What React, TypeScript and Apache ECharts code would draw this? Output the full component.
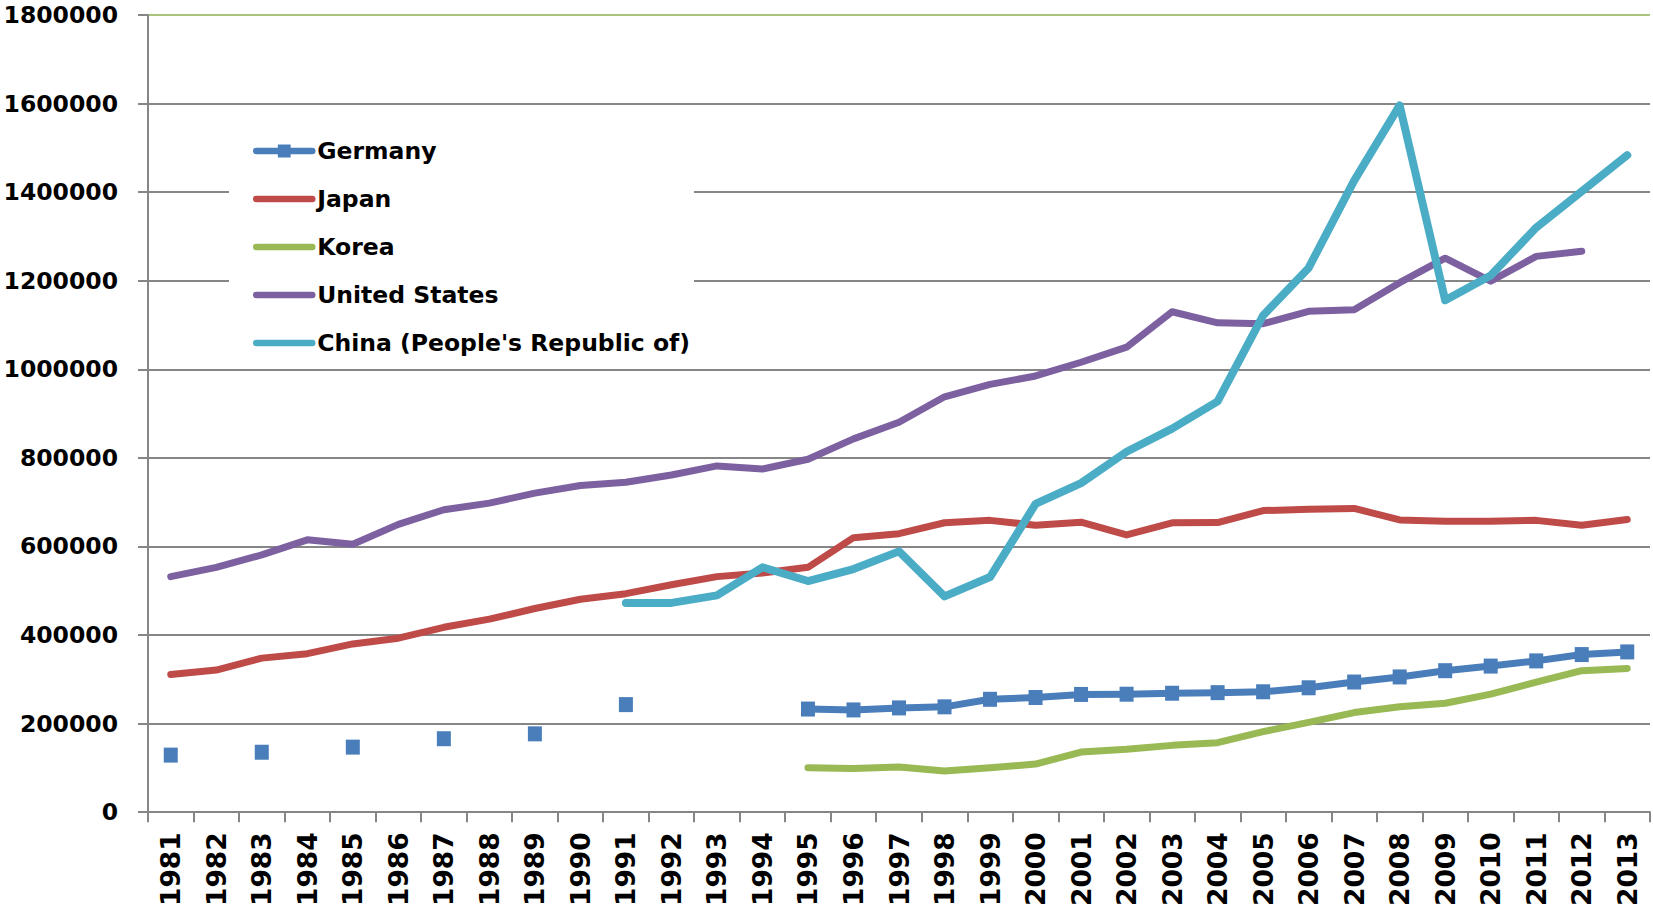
import React, { useEffect, useRef } from "react";
import * as echarts from "echarts";

const years = [
  "1981", "1982", "1983", "1984", "1985", "1986", "1987", "1988", "1989", "1990",
  "1991", "1992", "1993", "1994", "1995", "1996", "1997", "1998", "1999", "2000",
  "2001", "2002", "2003", "2004", "2005", "2006", "2007", "2008", "2009", "2010",
  "2011", "2012", "2013",
];

const seriesNames = ["Germany", "Japan", "Korea", "United States", "China (People's Republic of)"];

const germany = [
  129000, null, 135500, null, 147000, null, 166000, null, 177000, null,
  243000, null, null, null, 233000, 231000, 235600, 238000, 255000, 259000,
  266000, 266500, 268700, 270000, 272000, 281000, 294000, 305500, 319600, 330000,
  341700, 356000, 362000,
];

const japan = [
  311000, 321000, 348000, 358000, 380000, 393000, 417600, 436000, 460000, 481000,
  493500, 513600, 532000, 540000, 553000, 620000, 629000, 653600, 659000, 648000,
  655000, 626000, 653600, 654000, 681000, 684000, 686000, 660000, 657000, 657000,
  659000, 648000, 661000,
];

const korea = [
  null, null, null, null, null, null, null, null, null, null,
  null, null, null, null, 100500, 99000, 102000, 93000, 100500, 108700,
  136000, 142000, 151000, 157000, 182000, 203000, 225000, 238000, 246000, 266600,
  293600, 319600, 324700,
];

const unitedStates = [
  532000, 553000, 581000, 615000, 605000, 650000, 683000, 698000, 720600, 737600,
  745000, 761500, 782000, 775000, 797000, 843000, 880500, 938000, 966000, 985000,
  1016000, 1050000, 1130000, 1105000, 1103000, 1131000, 1134700, 1195600, 1251000, 1199000,
  1255000, 1266600, null,
];

const china = [
  null, null, null, null, null, null, null, null, null, null,
  472700, 472700, 489700, 553000, 522000, 549000, 589000, 487500, 531000, 696000,
  743000, 814000, 866000, 927500, 1121700, 1229000, 1426000, 1596000, 1156000, 1212000,
  1320000, 1401700, 1483500,
];

const FONT = "'DejaVu Sans', sans-serif";
const GRID_GRAY = "#868686";
const COLORS = ["#4A7EBB", "#BE4B48", "#98B954", "#7D60A0", "#4BACC6"];

export default function App() {
  const ref = useRef<HTMLDivElement>(null);

  useEffect(() => {
    if (!ref.current) return;
    const chart = echarts.init(ref.current, null, { renderer: "svg" });

    const lineSeries = (name: string, data: (number | null)[], color: string, width: number, extra: any = {}) => ({
      type: "line",
      name,
      data,
      connectNulls: false,
      symbol: "none",
      showAllSymbol: true,
      lineStyle: { color, width, cap: "round", join: "round" },
      itemStyle: { color },
      emphasis: { disabled: true },
      ...extra,
    });

    chart.setOption({
      animation: false,
      backgroundColor: "#ffffff",
      grid: { left: 148, right: 3, top: 15, bottom: 88, containLabel: false },
      legend: {
        orient: "vertical",
        left: 229,
        top: 120,
        backgroundColor: "#ffffff",
        padding: [17, 4, 8, 24],
        itemWidth: 56,
        itemHeight: 16,
        itemGap: 20,
        textStyle: { fontFamily: FONT, fontWeight: "bold", fontSize: 23.5, color: "#000", lineHeight: 28 },
        lineStyle: { width: 6.5, cap: "round" },
        data: seriesNames.map((name, i) =>
          i === 0
            ? { name, itemStyle: { borderWidth: 0 } }
            : { name, itemStyle: { opacity: 0, borderWidth: 0 } }
        ),
      },
      xAxis: {
        type: "category",
        data: years,
        boundaryGap: true,
        axisLine: { lineStyle: { color: GRID_GRAY, width: 2 } },
        axisTick: { show: true, length: 10, lineStyle: { color: GRID_GRAY, width: 2 } },
        axisLabel: {
          rotate: 90,
          interval: 0,
          margin: 20,
          fontFamily: FONT,
          fontWeight: "bold",
          fontSize: 26.5,
          color: "#000",
        },
        splitLine: { show: false },
      },
      yAxis: {
        type: "value",
        min: 0,
        max: 1800000,
        interval: 200000,
        axisLine: { show: true, lineStyle: { color: GRID_GRAY, width: 2 } },
        axisTick: { show: true, length: 10, lineStyle: { color: GRID_GRAY, width: 2 } },
        axisLabel: {
          margin: 30,
          fontFamily: FONT,
          fontWeight: "bold",
          fontSize: 23.5,
          color: "#000",
          formatter: (v: number) => String(v),
        },
        splitLine: {
          show: true,
          lineStyle: {
            color: [GRID_GRAY, GRID_GRAY, GRID_GRAY, GRID_GRAY, GRID_GRAY, GRID_GRAY, GRID_GRAY, GRID_GRAY, GRID_GRAY, "#A9C47F"],
            width: 2,
          },
        },
      },
      series: [
        lineSeries(seriesNames[0], germany, COLORS[0], 7, { symbol: "rect", symbolSize: [14, 15] }),
        lineSeries(seriesNames[1], japan, COLORS[1], 7),
        lineSeries(seriesNames[2], korea, COLORS[2], 7),
        lineSeries(seriesNames[3], unitedStates, COLORS[3], 7),
        lineSeries(seriesNames[4], china, COLORS[4], 8),
      ],
    });

    return () => chart.dispose();
  }, []);

  return <div ref={ref} style={{ position: "fixed", left: 0, top: 0, width: 1653, height: 909 }} />;
}
